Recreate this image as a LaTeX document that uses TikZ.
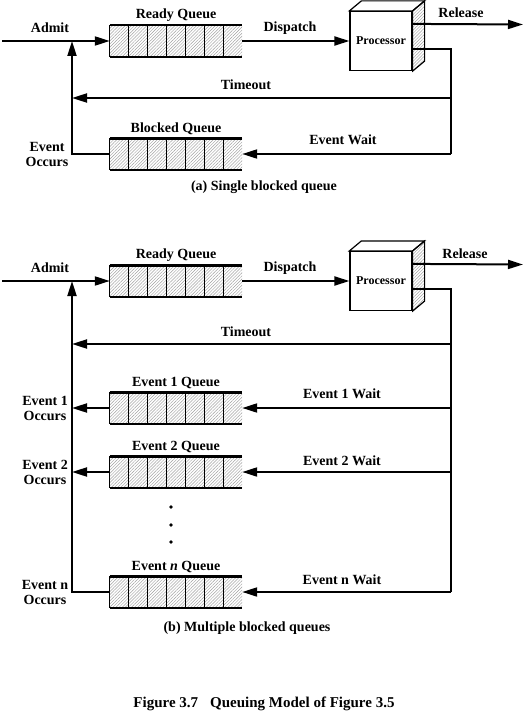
\documentclass[tikz,border=0pt]{standalone}
\usepackage{fontspec}
\setmainfont{Liberation Serif}
\usetikzlibrary{arrows.meta,patterns.meta,calc}

\tikzset{
  hatch/.style={pattern={Lines[angle=45,distance=2.2pt,line width=.45pt]},pattern color=gray!75},
  queue/.style={minimum width=132pt,minimum height=31pt,inner sep=0pt,
    hatch,label distance=1pt},
  proc/.style={draw,line width=1.2pt,minimum width=62pt,minimum height=59pt,
    inner sep=0pt,fill=white,font=\fontsize{12}{13}\selectfont\bfseries},
  conn/.style={line width=2pt,-{Triangle[length=15pt,width=9pt]}},
  wire/.style={line width=2pt},
  dot/.style={circle,fill,inner sep=1.4pt},
}

\begin{document}
\begin{tikzpicture}[x=1pt,y=-1pt,font=\fontsize{14}{15}\selectfont\bfseries]
        \useasboundingbox (0,0) rectangle (527,717);

        % (a)
        \node[queue,label={above:Ready Queue}] (rq1) at (176,41) {};
        \node[queue,label={above:Blocked Queue}] (bq) at (176,154) {};
        \node[proc] (p1) at (381,41) {Processor};
        \coordinate (in1) at (2,41);
        \coordinate (j1) at (72,41);
        \coordinate (out1) at (523,24.5);
        \coordinate (c1) at (451,154);
        \coordinate (t1) at (451,98);

        \node (admit1) at (50,28) {Admit};
        \node (disp1) at (290,28) {Dispatch};
        \node (rel1) at (461,13) {Release};
        \node (tout1) at (246,85) {Timeout};
        \node (ewait) at (343,140) {Event Wait};
        \node[align=center] (eocc) at (47,155) {Event\\Occurs};
        \node (capa) at (264,187) {(a) Single blocked queue};

        % (b)
        \node[queue,label={above:Ready Queue}] (rq2) at (176,281) {};
        \node[queue,label={above:Event 1 Queue}] (eq1) at (176,408) {};
        \node[queue,label={above:Event 2 Queue}] (eq2) at (176,472) {};
        \node[queue,label={above:Event \textit{n} Queue}] (eqn) at (176,592) {};
        \node[proc] (p2) at (381,281) {Processor};
        \coordinate (in2) at (2,281);
        \coordinate (j2) at (72,281);
        \coordinate (out2) at (523,264.5);
        \coordinate (c2) at (451,592);
        \coordinate (t2) at (451,344);

        \node (admit2) at (50,268) {Admit};
        \node (disp2) at (290,268) {Dispatch};
        \node (rel2) at (465,254) {Release};
        \node (tout2) at (246,332) {Timeout};
        \node (ewait1) at (342,394) {Event 1 Wait};
        \node (ewait2) at (342,461) {Event 2 Wait};
        \node (ewaitn) at (342,580) {Event n Wait};
        \node[align=center] (eocc1) at (45,408) {Event 1\\Occurs};
        \node[align=center] (eocc2) at (45,472) {Event 2\\Occurs};
        \node[align=center] (eoccn) at (45,592) {Event n\\Occurs};
        \foreach \y [count=\k] in {507,525,542}
            \node[dot] (dot\k) at (171,\y) {};
        \node (capb) at (247,628) {(b) Multiple blocked queues};

        \node[font=\fontsize{15}{16}\selectfont\bfseries] (fig) at (264,704)
            {Figure 3.7\hspace{12pt}Queuing Model of Figure 3.5};

        % queue cells
        \foreach \q in {rq1,bq,rq2,eq1,eq2,eqn}{
            \foreach \i in {1,...,6}
                \draw[line width=.8pt] ($(\q.north west)!{\i/7}!(\q.north east)$) -- ($(\q.south west)!{\i/7}!(\q.south east)$);
            \draw[line width=.8pt] (\q.north west) -- (\q.south west);
            \draw[line width=2.4pt] (\q.north west) -- (\q.north east) (\q.south west) -- (\q.south east);
        }

        % processor boxes
        \foreach \p in {p1,p2}{
            \draw[line width=1.2pt,fill=white] (\p.north west) -- ++(12,-10) -- ($(\p.north east)+(12,-10)$) -- (\p.north east) -- cycle;
            \draw[line width=1.2pt,hatch] (\p.north east) -- ++(12,-10) -- ($(\p.south east)+(12,-10)$) -- (\p.south east) -- cycle;
        }

        % connectors (a)
        \draw[conn] (in1) -- (rq1.west);
        \draw[conn] (rq1.east) -- (p1.west);
        \draw[conn] ([yshift=-13pt]p1.north east) -- (out1);
        \draw[wire] ([yshift=-38pt]p1.north east) -| (c1);
        \draw[conn] (t1) -- (t1 -| j1);
        \draw[conn] (c1) -- (bq.east);
        \draw[conn] (bq.west) -| (j1);

        % connectors (b)
        \draw[conn] (in2) -- (rq2.west);
        \draw[conn] (rq2.east) -- (p2.west);
        \draw[conn] ([yshift=-13pt]p2.north east) -- (out2);
        \draw[wire] ([yshift=-38pt]p2.north east) -| (c2);
        \draw[conn] (t2) -- (t2 -| j2);
        \draw[conn] (eq1.east -| c2) -- (eq1.east);
        \draw[conn] (eq2.east -| c2) -- (eq2.east);
        \draw[conn] (c2) -- (eqn.east);
        \draw[conn] (eq1.west) -- (eq1.west -| j2);
        \draw[conn] (eq2.west) -- (eq2.west -| j2);
        \draw[conn] (eqn.west) -| (j2);

\end{tikzpicture}
\end{document}
